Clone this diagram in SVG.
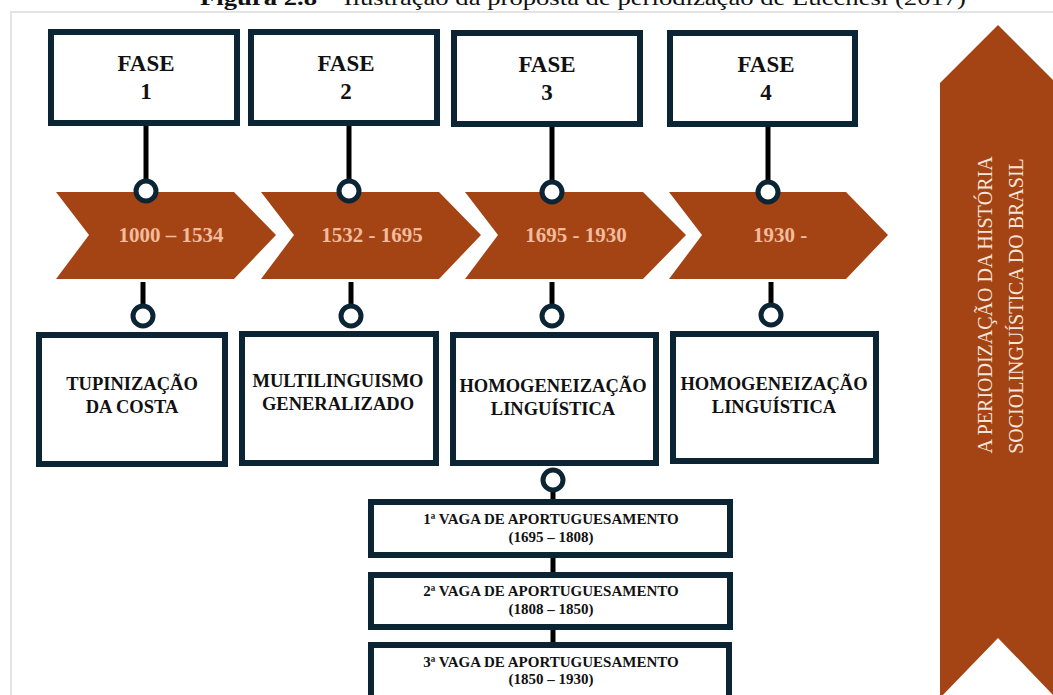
<svg xmlns="http://www.w3.org/2000/svg" width="1053" height="695" viewBox="0 0 1053 695" font-family="'Liberation Serif', 'Times New Roman', serif">
<style>
.box{fill:#fff;stroke:#0b2535;stroke-width:6}
.ln{stroke:#000;stroke-width:5;fill:none}
.ring{fill:#fff;stroke:#0b2535;stroke-width:5}
.chev{fill:#a44415}
.t{font-weight:bold;fill:#111;text-anchor:middle}
.fase{font-size:23px}
.lbl{font-size:18.5px}
.sub{font-size:15px}
.yr{font-weight:bold;font-size:21px;fill:#f2bc9c;text-anchor:middle}
.rib{font-size:20px;fill:#f6e4d8;text-anchor:middle}
</style>
<rect width="1053" height="695" fill="#fff"/>
<text x="200" y="5" font-size="21" fill="#111" textLength="766" lengthAdjust="spacingAndGlyphs"><tspan font-weight="bold">Figura 2.8</tspan> – Ilustração da proposta de periodização de Lucchesi (2017)</text>
<path d="M11 695 V12 H1053" fill="none" stroke="#e4e4e4" stroke-width="2"/>
<g id="ribbon">
<polygon points="940,83 998,25 1056,83 1056,698 998,638 940,698" fill="#a44415"/>
<text class="rib" transform="translate(992,305) rotate(-90)">A PERIODIZAÇÃO DA HISTÓRIA</text>
<text class="rib" transform="translate(1023,306) rotate(-90)">SOCIOLINGUÍSTICA DO BRASIL</text>
</g>
<g id="connectors">
<line class="ln" x1="146" y1="126" x2="146" y2="185"/>
<line class="ln" x1="349" y1="126" x2="349" y2="185"/>
<line class="ln" x1="552" y1="127" x2="552" y2="185"/>
<line class="ln" x1="768" y1="127" x2="768" y2="185"/>
<line class="ln" x1="143" y1="282" x2="143" y2="310"/>
<line class="ln" x1="351" y1="282" x2="351" y2="310"/>
<line class="ln" x1="552" y1="282" x2="552" y2="310"/>
<line class="ln" x1="771" y1="282" x2="771" y2="310"/>
<line class="ln" x1="553" y1="485" x2="553" y2="500"/>
<line class="ln" x1="553" y1="558" x2="553" y2="573"/>
<line class="ln" x1="553" y1="630" x2="553" y2="643"/>
</g>
<g id="chevrons">
<polygon class="chev" points="56,192 234,192 276,235 234,279 56,279 89,235"/>
<polygon class="chev" points="261,192 439,192 481,235 439,279 261,279 294,235"/>
<polygon class="chev" points="465,192 643,192 686,235 643,279 465,279 498,235"/>
<polygon class="chev" points="669,192 846,192 888,235 846,279 669,279 702,235"/>
<text class="yr" x="171" y="242">1000 – 1534</text>
<text class="yr" x="372" y="242">1532 - 1695</text>
<text class="yr" x="576" y="242">1695 - 1930</text>
<text class="yr" x="780" y="242">1930 -</text>
</g>
<g id="rings">
<circle class="ring" cx="146" cy="191" r="10"/>
<circle class="ring" cx="349" cy="191" r="10"/>
<circle class="ring" cx="552" cy="192" r="10"/>
<circle class="ring" cx="768" cy="192" r="10"/>
<circle class="ring" cx="143" cy="316" r="10"/>
<circle class="ring" cx="351" cy="316" r="10"/>
<circle class="ring" cx="552" cy="316" r="10"/>
<circle class="ring" cx="771" cy="315" r="10"/>
<circle class="ring" cx="553" cy="480" r="10"/>
</g>
<g id="fase1"><rect class="box" x="51" y="32" width="186" height="91"/><text class="t fase" x="146" y="71">FASE</text><text class="t fase" x="146" y="99">1</text></g>
<g id="fase2"><rect class="box" x="251" y="32" width="186" height="91"/><text class="t fase" x="346" y="71">FASE</text><text class="t fase" x="346" y="99">2</text></g>
<g id="fase3"><rect class="box" x="454" y="33" width="186" height="91"/><text class="t fase" x="547" y="72">FASE</text><text class="t fase" x="547" y="100">3</text></g>
<g id="fase4"><rect class="box" x="670" y="33" width="185" height="91"/><text class="t fase" x="766" y="72">FASE</text><text class="t fase" x="766" y="100">4</text></g>
<g id="lbl1"><rect class="box" x="39" y="335" width="186" height="129"/><text class="t lbl" x="132" y="390">TUPINIZAÇÃO</text><text class="t lbl" x="132" y="413">DA COSTA</text></g>
<g id="lbl2"><rect class="box" x="242" y="334" width="194" height="129"/><text class="t lbl" x="338" y="387">MULTILINGUISMO</text><text class="t lbl" x="338" y="410">GENERALIZADO</text></g>
<g id="lbl3"><rect class="box" x="453" y="335" width="203" height="128"/><text class="t lbl" x="553" y="392">HOMOGENEIZAÇÃO</text><text class="t lbl" x="553" y="415">LINGUÍSTICA</text></g>
<g id="lbl4"><rect class="box" x="673" y="334" width="203" height="127"/><text class="t lbl" x="774" y="390">HOMOGENEIZAÇÃO</text><text class="t lbl" x="774" y="413">LINGUÍSTICA</text></g>
<g id="vaga1"><rect class="box" x="371" y="502" width="359" height="53"/><text class="t sub" x="551" y="524">1ª VAGA DE APORTUGUESAMENTO</text><text class="t sub" x="551" y="542">(1695 – 1808)</text></g>
<g id="vaga2"><rect class="box" x="371" y="575" width="359" height="52"/><text class="t sub" x="551" y="596">2ª VAGA DE APORTUGUESAMENTO</text><text class="t sub" x="551" y="614">(1808 – 1850)</text></g>
<g id="vaga3"><rect class="box" x="371" y="645" width="358" height="60"/><text class="t sub" x="551" y="667">3ª VAGA DE APORTUGUESAMENTO</text><text class="t sub" x="551" y="684">(1850 – 1930)</text></g>
</svg>
